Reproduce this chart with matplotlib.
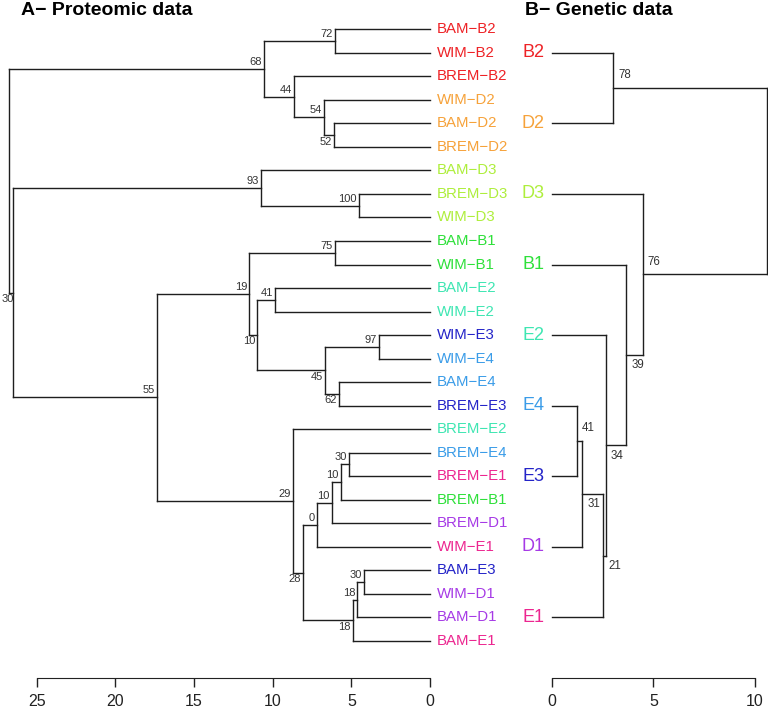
import matplotlib
matplotlib.use("Agg")
import matplotlib.pyplot as plt

plt.rcParams['font.family'] = ['Liberation Sans', 'DejaVu Sans']

# ---------------- data ----------------
group_colors = {
    "B2": "#EE2226", "D2": "#F6A23A", "D3": "#AEEE3C", "B1": "#2EE03A",
    "E2": "#3EE6B2", "E3": "#2424C8", "E4": "#3A9CE8", "E1": "#EC2690",
    "D1": "#A63AE6",
}

# A - proteomic data (leaf order top to bottom)
prot_leaves = ["BAM−B2", "WIM−B2", "BREM−B2", "WIM−D2", "BAM−D2", "BREM−D2",
               "BAM−D3", "BREM−D3", "WIM−D3", "BAM−B1", "WIM−B1", "BAM−E2",
               "WIM−E2", "WIM−E3", "WIM−E4", "BAM−E4", "BREM−E3", "BREM−E2",
               "BREM−E4", "BREM−E1", "BREM−B1", "BREM−D1", "WIM−E1", "BAM−E3",
               "WIM−D1", "BAM−D1", "BAM−E1"]
prot_groups = ["B2", "B2", "B2", "D2", "D2", "D2", "D3", "D3", "D3", "B1", "B1",
               "E2", "E2", "E3", "E4", "E4", "E3", "E2", "E4", "E1", "B1", "D1",
               "E1", "E3", "D1", "D1", "E1"]
# merge matrix (R hclust convention: negative = leaf, positive = earlier merge)
prot_merge = [(-1, -2), (-5, -6), (-4, 2), (-3, 3), (1, 4), (-8, -9), (-7, 6),
              (-10, -11), (-12, -13), (-14, -15), (-16, -17), (10, 11), (9, 12),
              (8, 13), (-19, -20), (15, -21), (16, -22), (17, -23), (-24, -25),
              (19, -26), (20, -27), (18, 21), (-18, 22), (14, 23), (7, 24),
              (5, 25)]
prot_height = [6.04, 6.08, 6.72, 8.65, 10.53, 4.51, 10.76, 6.04, 9.85, 3.24,
               5.77, 6.68, 10.98, 11.49, 5.15, 5.66, 6.25, 7.18, 4.21, 4.62,
               4.90, 8.07, 8.69, 17.34, 26.53, 26.74]
prot_support = ["72", "52", "54", "44", "68", "100", "93", "75", "41", "97",
                "62", "45", "10", "19", "30", "10", "10", "0", "30", "18",
                "18", "28", "29", "55", "30", None]
prot_ticks = [25, 20, 15, 10, 5, 0]

# B - genetic data
gen_leaves = ["B2", "D2", "D3", "B1", "E2", "E4", "E3", "D1", "E1"]
gen_merge = [(-1, -2), (-6, -7), (2, -8), (3, -9), (-5, 4), (-4, 5), (-3, 6),
             (1, 7)]
gen_height = [3.03, 1.23, 1.51, 2.54, 2.66, 3.67, 4.48, 10.60]
gen_support = ["78", "41", "31", "21", "34", "39", "76", None]
gen_ticks = [0, 5, 10]

# label placement (style): True = above node, False = below
prot_above = [True, False, True, True, True, True, True, True, True, True,
              False, False, False, True, True, True, True, True, True, True,
              False, False, True, True, False, True]
gen_above = [True, True, False, False, False, False, True, True]

LINE = "#1e1e1e"


def draw_tree(ax, merge, heights, support, above, n_leaves, side):
    pos = {}
    hgt = {}
    for i in range(1, n_leaves + 1):
        pos[-i] = float(i)
        hgt[-i] = 0.0
    for k, (a, b) in enumerate(merge, start=1):
        h = heights[k - 1]
        ya, yb = pos[a], pos[b]
        ax.plot([h, h], [ya, yb], color=LINE, lw=1.0, clip_on=False,
                solid_capstyle='projecting')
        ax.plot([hgt[a], h], [ya, ya], color=LINE, lw=1.0, clip_on=False)
        ax.plot([hgt[b], h], [yb, yb], color=LINE, lw=1.0, clip_on=False)
        pos[k] = (ya + yb) / 2.0
        hgt[k] = h
        s = support[k - 1]
        if s is None:
            continue
        up = above[k - 1]
        if side == "left":
            xoff = -1.5 if h < 26 else 1.2
            ax.annotate(s, (h, pos[k]), xytext=(xoff, 1.5 if up else -1.0),
                        textcoords='offset points', ha='right',
                        va='bottom' if up else 'top', fontsize=8,
                        color='#333333', annotation_clip=False)
        else:
            ax.annotate(s, (h, pos[k]), xytext=(3.5, 5 if up else -3),
                        textcoords='offset points', ha='left',
                        va='bottom' if up else 'top', fontsize=8.3,
                        color='#333333', annotation_clip=False)


def style_axis(ax, ticks, lo, hi):
    for sp in ['top', 'left', 'right']:
        ax.spines[sp].set_visible(False)
    ax.spines['bottom'].set_position(('outward', 18.4))
    ax.spines['bottom'].set_bounds(lo, hi)
    ax.spines['bottom'].set_color('#222222')
    ax.set_xticks(ticks)
    ax.set_xticklabels([str(t) for t in ticks])
    ax.tick_params(axis='x', direction='out', length=6.5, width=1.0,
                   colors='#222222', labelsize=11.5, pad=5)
    ax.set_yticks([])
    ax.patch.set_visible(False)


fig = plt.figure(figsize=(7.68, 7.12), dpi=100)
bottom, height = 0.08329, 0.89213

# ---- A: proteomic ----
axA = fig.add_axes([0.00074, bottom, 0.55916, height])
axA.set_xlim(27.3, 0)
axA.set_ylim(len(prot_leaves) + 0.5, 0.5)
draw_tree(axA, prot_merge, prot_height, prot_support, prot_above,
          len(prot_leaves), "left")
for i, (lab, g) in enumerate(zip(prot_leaves, prot_groups), start=1):
    axA.annotate(lab, (0, i), xytext=(5, 0), textcoords='offset points',
                 ha='left', va='center', fontsize=10.8,
                 color=group_colors[g], annotation_clip=False)
style_axis(axA, prot_ticks, 0, 25)

# ---- B: genetic ----
axB = fig.add_axes([0.71836, bottom, 0.28164, height])
axB.set_xlim(0, 10.64)
axB.set_ylim(len(gen_leaves) + 0.5, 0.5)
draw_tree(axB, gen_merge, gen_height, gen_support, gen_above,
          len(gen_leaves), "right")
for i, lab in enumerate(gen_leaves, start=1):
    axB.annotate(lab, (0, i), xytext=(-5.5, 0), textcoords='offset points',
                 ha='right', va='center', fontsize=13,
                 color=group_colors[lab], annotation_clip=False)
style_axis(axB, gen_ticks, 0, 10)

fig.text(21 / 768, 1 - 10.5 / 712, "A− Proteomic data", fontsize=14,
         fontweight='bold', ha='left', va='center')
fig.text(525 / 768, 1 - 10.5 / 712, "B− Genetic data", fontsize=14,
         fontweight='bold', ha='left', va='center')

fig.savefig("out.png", dpi=100)
